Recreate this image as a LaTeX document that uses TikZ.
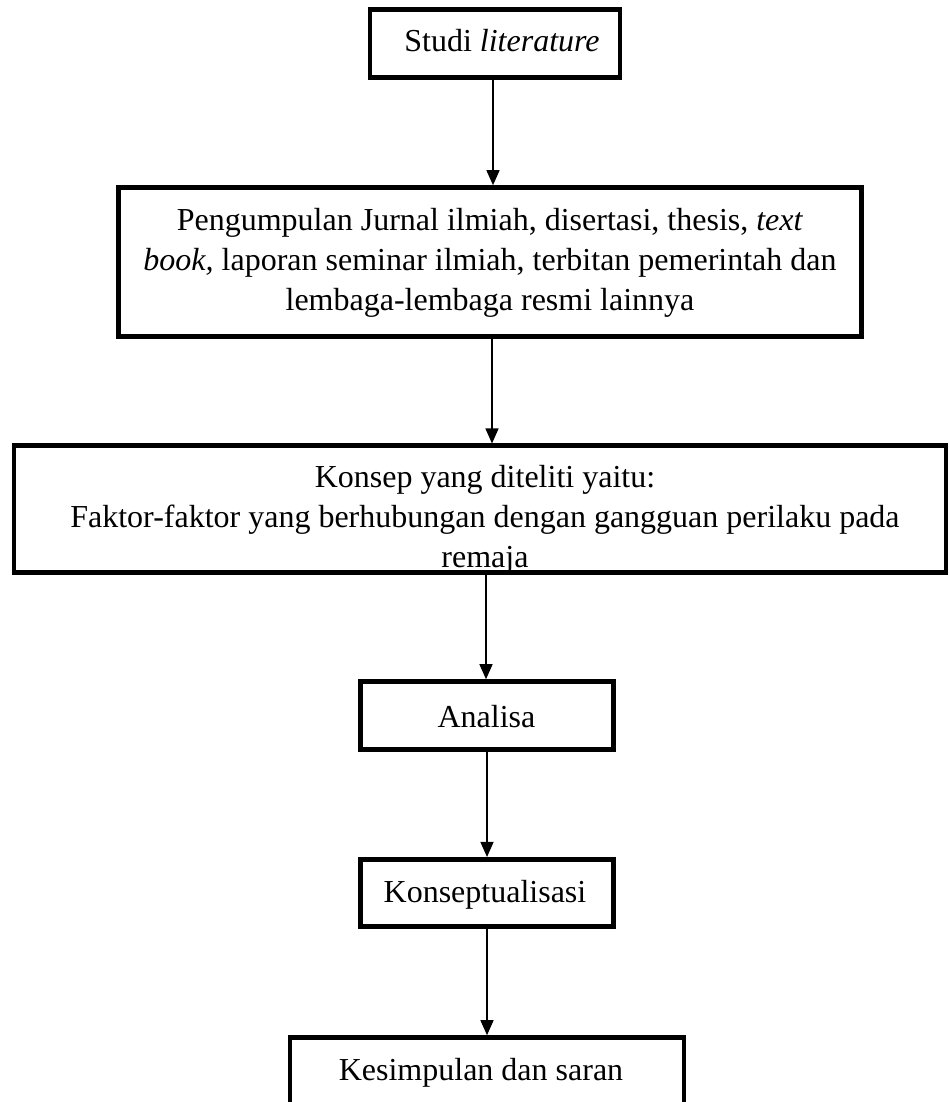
\documentclass[tikz,border=0pt]{standalone}
\usepackage{fontspec}
\setmainfont{Liberation Serif}
\usetikzlibrary{arrows.meta}
\begin{document}
\begin{tikzpicture}[x=1pt,y=-1pt,
  boxnode/.style={draw,line width=4.6pt,inner sep=0pt,anchor=center},
  txt/.style={font=\fontsize{32}{40}\selectfont,align=center,inner sep=0pt},
  arr/.style={-{Triangle[length=15pt,width=13pt]},line width=1.3pt}]
\useasboundingbox (0,0) rectangle (949,1102);
\clip (0,0) rectangle (949,1102);
% boxes
\node[boxnode,minimum width=250pt,minimum height=68pt] (b1) at (495,43.5) {};
\node[txt,anchor=base] (t1) at (502,52) {Studi \textit{literature}};
\node[boxnode,minimum width=742.5pt,minimum height=149pt] (b2) at (490,262) {};
\node[txt] (t2) at (490,262.5) {Pengumpulan Jurnal ilmiah, disertasi, thesis, \textit{text}\\\textit{book,} laporan seminar ilmiah, terbitan pemerintah dan\\lembaga-lembaga resmi lainnya};
\node[boxnode,minimum width=932pt,minimum height=126.5pt] (b3) at (480,509) {};
\node[txt] (t3) at (485,519.5) {Konsep yang diteliti yaitu:\\Faktor-faktor yang berhubungan dengan gangguan perilaku pada\\remaja};
\node[boxnode,minimum width=252.5pt,minimum height=68pt] (b4) at (487,715.5) {};
\node[txt,anchor=base] (t4) at (486.5,727.7) {Analisa};
\node[boxnode,minimum width=252.5pt,minimum height=67.5pt] (b5) at (487,893) {};
\node[txt,anchor=base] (t5) at (485,902) {Konseptualisasi};
\node[boxnode,minimum width=394pt,minimum height=102.5pt] (b6) at (487,1088.75) {};
\node[txt,anchor=base] (t6) at (481,1080) {Kesimpulan dan saran};
% connectors
\coordinate (a1) at (493,0);
\coordinate (a2) at (492,0);
\coordinate (a3) at (486,0);
\coordinate (a4) at (487,0);
\draw[arr] (b1.south -| a1) -- (b2.north -| a1);
\draw[arr] (b2.south -| a2) -- (b3.north -| a2);
\draw[arr] (b3.south -| a3) -- (b4.north -| a3);
\draw[arr] (b4.south -| a4) -- (b5.north -| a4);
\draw[arr] (b5.south -| a4) -- (b6.north -| a4);
\end{tikzpicture}
\end{document}
